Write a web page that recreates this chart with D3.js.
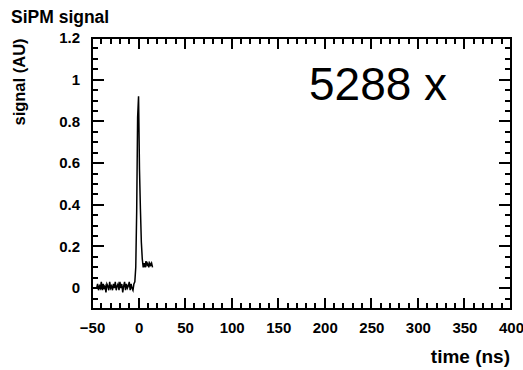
<!DOCTYPE html>
<html>
<head>
<meta charset="utf-8">
<script src="https://cdn.jsdelivr.net/npm/d3@7"></script>
<style>
  body { margin: 0; background: #fff; }
  svg { display: block; font-family: "Liberation Sans", Arial, sans-serif; }
  .axis path, .axis line { display: none; }
  .axis text { font-size: 15px; font-weight: bold; fill: #000; }
</style>
</head>
<body>
<svg id="chart" width="523" height="370"></svg>
<script>
// sampled pulse, time in ns
const times = d3.range(-45, 16);
const signal = [
  0.00, 0.02, -0.01, 0.01, 0.00, 0.03, -0.01, 0.02, 0.00, 0.01,
  -0.02, 0.02, 0.01, -0.01, 0.03, 0.00, 0.01, -0.01, 0.02, 0.00,
  0.03, -0.01, 0.01, 0.02, -0.01, 0.03, 0.00, 0.02, -0.02, 0.01,
  0.03, -0.01, 0.02, 0.00, 0.01, 0.03, -0.01, 0.02, 0.00, -0.01,
  0.02, 0.03,
  0.10, 0.37, 0.82, 0.92, 0.57, 0.38, 0.22, 0.14, 0.10,
  0.12, 0.10, 0.13, 0.11, 0.12, 0.10, 0.12, 0.11, 0.12, 0.10
];
const xTicks = [-50, 0, 50, 100, 150, 200, 250, 300, 350, 400];
const yTicks = [0, 0.2, 0.4, 0.6, 0.8, 1, 1.2];

const svg = d3.select("#chart");
const mLeft = 92, mRight = 511, mTop = 38, mBottom = 309;

const x = d3.scaleLinear().domain([-50, 400]).range([mLeft, mRight]);
const y = d3.scaleLinear().domain([-0.1, 1.2]).range([mBottom, mTop]);

const minorX = d3.range(-50, 401, 10);
const minorY = d3.range(-0.1, 1.2001, 0.05);

// frame
svg.append("path")
  .attr("d", `M${mLeft},${mTop}H${mRight}V${mBottom}H${mLeft}Z`)
  .attr("fill", "none").attr("stroke", "#000").attr("stroke-width", 2);

// tick marks pointing inward on all four sides
function xTickPath(vals, len) {
  return vals.map(v => {
    const p = Math.round(x(v));
    return `M${p},${mBottom}V${mBottom - len}M${p},${mTop}V${mTop + len}`;
  }).join("");
}
function yTickPath(vals, len) {
  return vals.map(v => {
    const p = Math.round(y(v));
    return `M${mLeft},${p}H${mLeft + len}M${mRight},${p}H${mRight - len}`;
  }).join("");
}

const tickG = svg.append("g")
  .attr("fill", "none").attr("stroke", "#000").attr("stroke-width", 2);
tickG.append("path").attr("d", xTickPath(minorX, 6));
tickG.append("path").attr("d", xTickPath(xTicks, 11));
tickG.append("path").attr("d", yTickPath(minorY, 6));
tickG.append("path").attr("d", yTickPath(yTicks, 12));

// tick labels
svg.append("g").attr("class", "axis").attr("transform", `translate(0,${mBottom})`)
  .call(d3.axisBottom(x).tickValues(xTicks).tickSize(0).tickPadding(13).tickFormat(d3.format("d")));
svg.append("g").attr("class", "axis").attr("transform", `translate(${mLeft},0)`)
  .call(d3.axisLeft(y).tickValues(yTicks).tickSize(0).tickPadding(12).tickFormat(d => d));

// the trace
const trace = d3.line()
  .x((d, i) => x(times[i]))
  .y(d => y(d));

svg.append("path")
  .datum(signal)
  .attr("d", trace)
  .attr("fill", "none")
  .attr("stroke", "#000")
  .attr("stroke-width", 1.5);

// titles
svg.append("text")
  .attr("x", 11).attr("y", 23)
  .style("font-size", "17.5px").style("font-weight", "bold")
  .text("SiPM signal");

svg.append("text")
  .attr("transform", "translate(25,82) rotate(-90)")
  .attr("text-anchor", "middle")
  .style("font-size", "16.5px").style("font-weight", "bold")
  .text("signal (AU)");

svg.append("text")
  .attr("x", 510).attr("y", 363)
  .attr("text-anchor", "end")
  .style("font-size", "19px").style("font-weight", "bold")
  .text("time (ns)");

svg.append("text")
  .attr("x", 309).attr("y", 100)
  .style("font-size", "46px")
  .text("5288 x");
</script>
</body>
</html>
